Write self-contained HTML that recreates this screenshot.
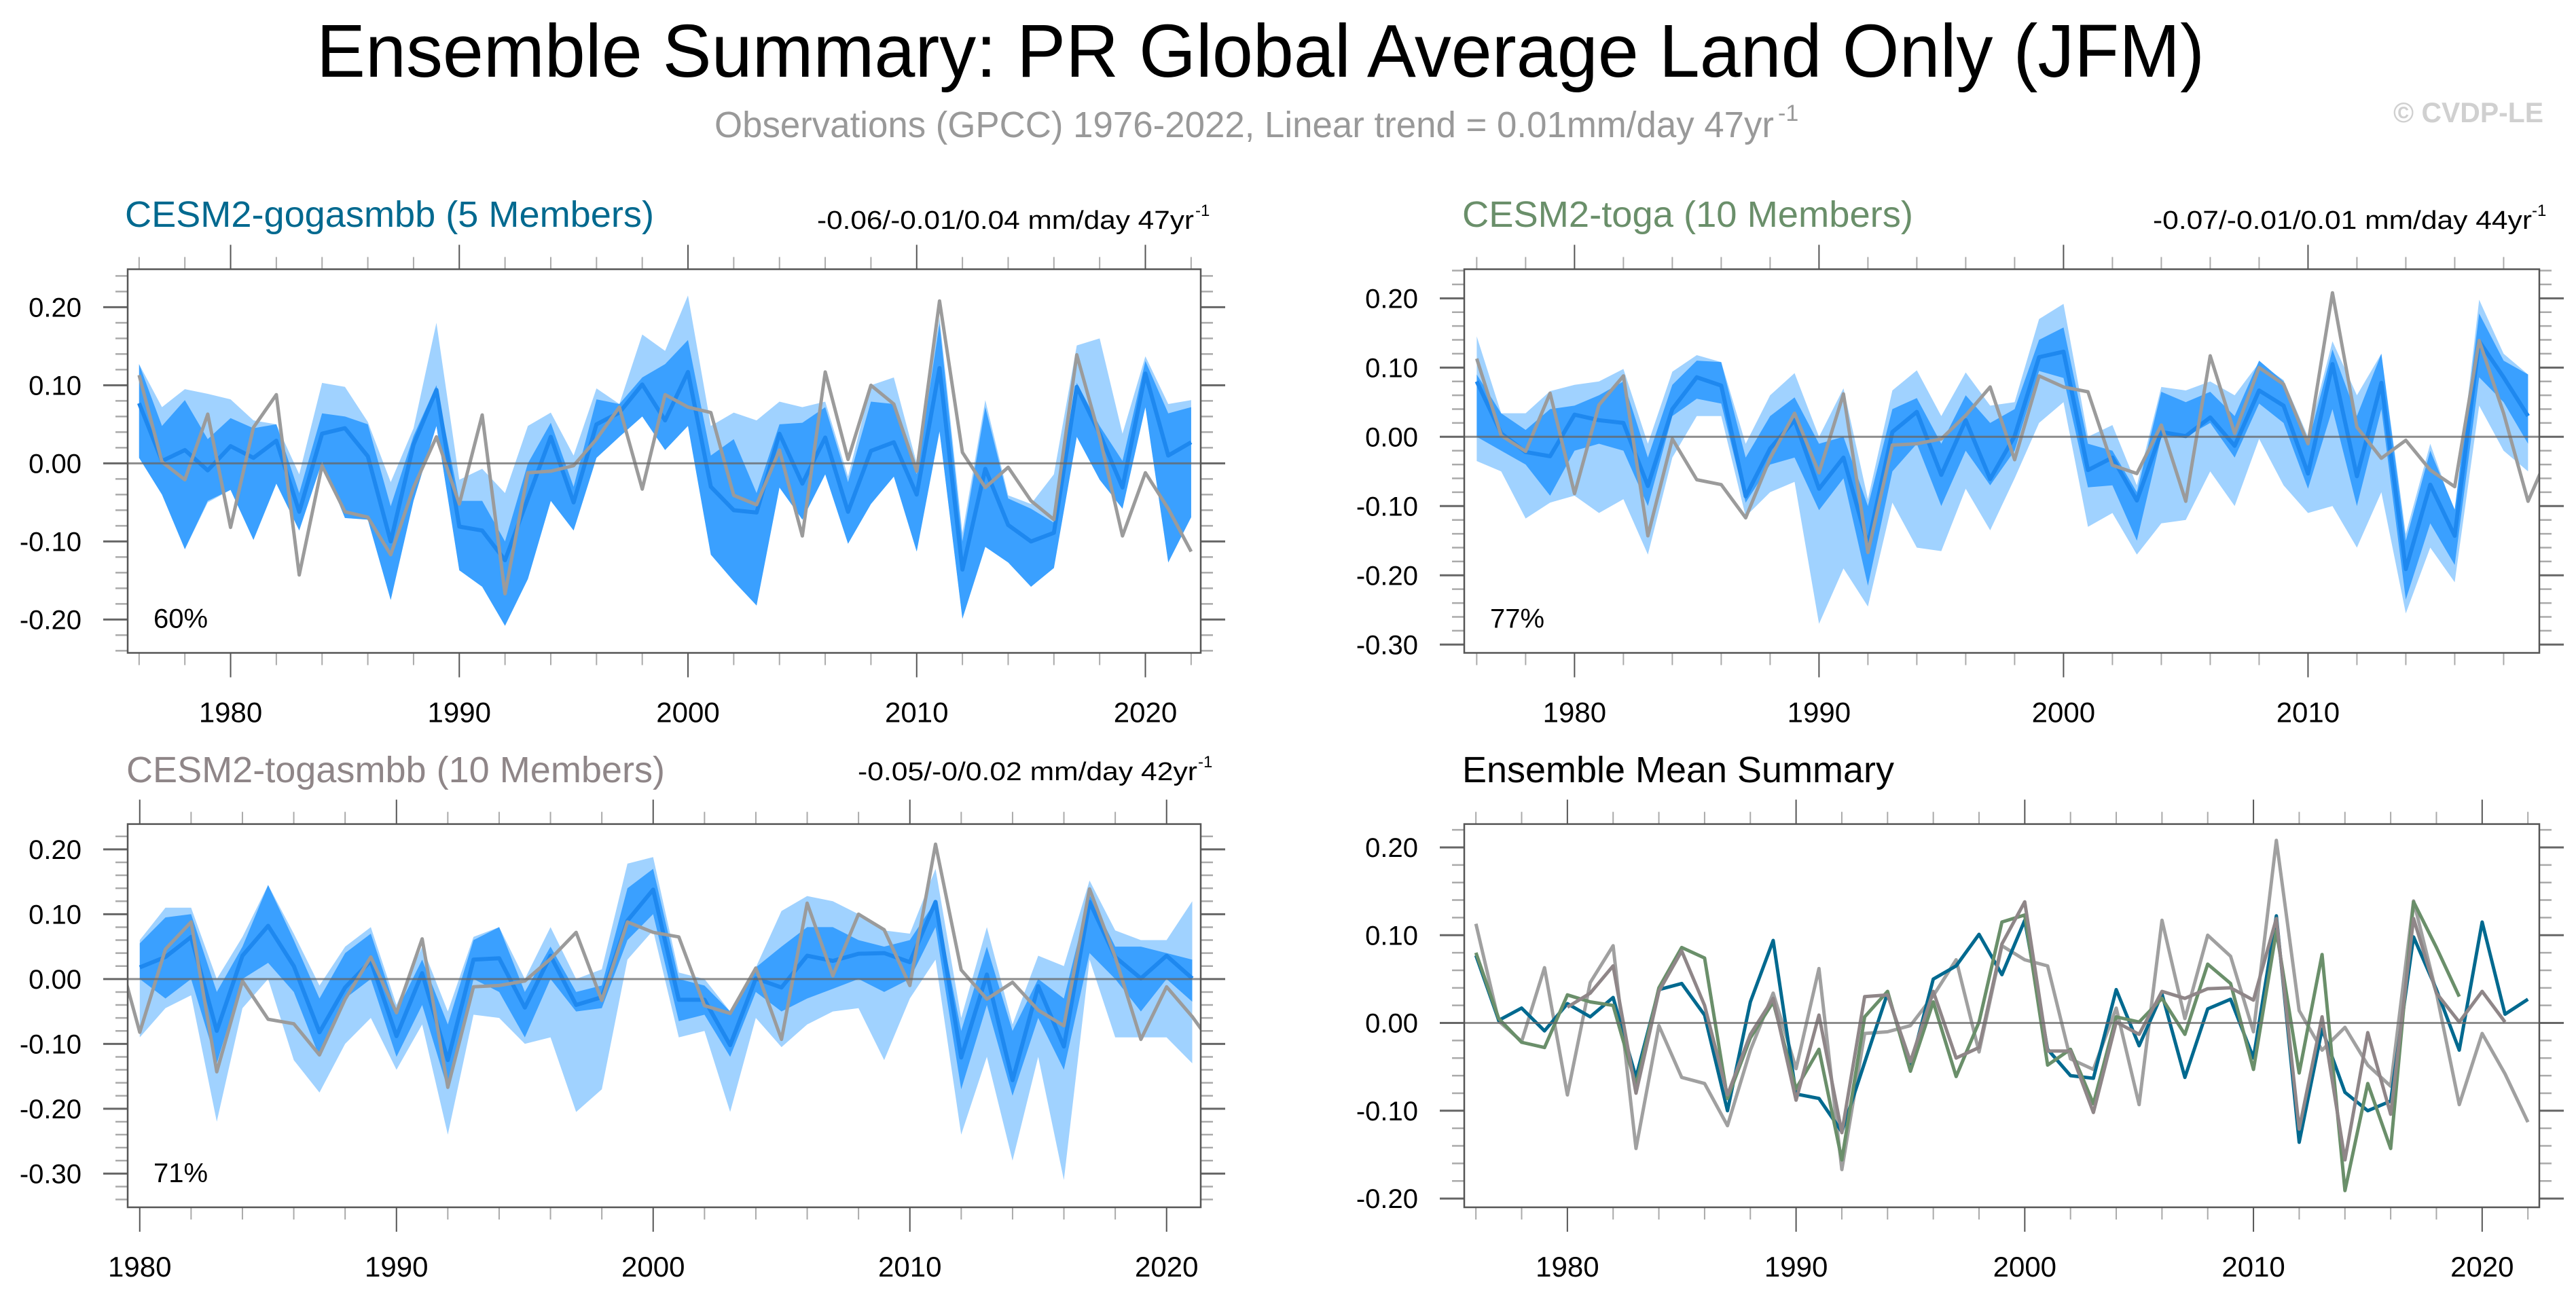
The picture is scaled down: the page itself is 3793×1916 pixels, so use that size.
<!DOCTYPE html>
<html><head><meta charset="utf-8"><title>Ensemble Summary</title>
<style>
html,body{margin:0;padding:0;background:#fff;}
svg{display:block;font-family:"Liberation Sans",Arial,sans-serif;}
</style></head>
<body>
<svg id="chart" width="3793" height="1916" viewBox="0 0 3793 1916" xmlns="http://www.w3.org/2000/svg">
<rect width="3793" height="1916" fill="#fff"/>
<text x="466" y="113" font-size="110" textLength="2780" lengthAdjust="spacingAndGlyphs" fill="#000">Ensemble Summary: PR Global Average Land Only (JFM)</text>
<text x="1052" y="202" font-size="54" fill="#999" textLength="1560" lengthAdjust="spacingAndGlyphs">Observations (GPCC) 1976-2022, Linear trend = 0.01mm/day 47yr</text>
<text x="2618" y="178" font-size="34" fill="#999">-1</text>
<text x="3524" y="180" font-size="42" font-weight="bold" fill="#d0d0d0" textLength="221" lengthAdjust="spacingAndGlyphs">© CVDP-LE</text>

<text x="184" y="334" font-size="54" fill="#00698f" textLength="779" lengthAdjust="spacingAndGlyphs">CESM2-gogasmbb (5 Members)</text>
<text x="1203" y="337" font-size="38" fill="#000" textLength="555" lengthAdjust="spacingAndGlyphs">-0.06/-0.01/0.04 mm/day 47yr</text>
<text x="1760" y="318" font-size="24" fill="#000">-1</text>

<text x="2153" y="334" font-size="54" fill="#6a8f6a" textLength="664" lengthAdjust="spacingAndGlyphs">CESM2-toga (10 Members)</text>
<text x="3170" y="337" font-size="38" fill="#000" textLength="558" lengthAdjust="spacingAndGlyphs">-0.07/-0.01/0.01 mm/day 44yr</text>
<text x="3728" y="318" font-size="24" fill="#000">-1</text>

<text x="186" y="1152" font-size="54" fill="#8f8688" textLength="793" lengthAdjust="spacingAndGlyphs">CESM2-togasmbb (10 Members)</text>
<text x="1263" y="1149" font-size="38" fill="#000" textLength="500" lengthAdjust="spacingAndGlyphs">-0.05/-0/0.02 mm/day 42yr</text>
<text x="1764" y="1130" font-size="24" fill="#000">-1</text>

<text x="2153" y="1152" font-size="54" fill="#000" textLength="636" lengthAdjust="spacingAndGlyphs">Ensemble Mean Summary</text>
</svg>
<script>
// ---------- data ----------
const yearsObs = [1976,1977,1978,1979,1980,1981,1982,1983,1984,1985,1986,1987,1988,1989,1990,1991,1992,1993,1994,1995,1996,1997,1998,1999,2000,2001,2002,2003,2004,2005,2006,2007,2008,2009,2010,2011,2012,2013,2014,2015,2016,2017,2018,2019,2020,2021,2022];
const obs = [0.113,0.002,-0.021,0.063,-0.082,0.046,0.088,-0.143,-0.003,-0.062,-0.069,-0.117,-0.031,0.034,-0.052,0.062,-0.167,-0.012,-0.010,-0.003,0.031,0.072,-0.033,0.088,0.072,0.065,-0.041,-0.053,0.017,-0.093,0.117,0.005,0.100,0.076,-0.010,0.208,0.014,-0.031,-0.005,-0.048,-0.072,0.139,0.034,-0.093,-0.012,-0.058,-0.113];

const years1 = [1976,1977,1978,1979,1980,1981,1982,1983,1984,1985,1986,1987,1988,1989,1990,1991,1992,1993,1994,1995,1996,1997,1998,1999,2000,2001,2002,2003,2004,2005,2006,2007,2008,2009,2010,2011,2012,2013,2014,2015,2016,2017,2018,2019,2020,2021,2022];
const mean1 = [0.077,0.003,0.017,-0.009,0.022,0.007,0.029,-0.062,0.038,0.045,0.009,-0.100,0.024,0.094,-0.081,-0.086,-0.124,-0.045,0.034,-0.050,0.050,0.065,0.101,0.055,0.117,-0.030,-0.060,-0.063,0.038,-0.026,0.033,-0.062,0.016,0.027,-0.040,0.122,-0.136,-0.007,-0.079,-0.100,-0.089,0.098,0.038,-0.031,0.115,0.010,0.027];
const lightUp1 = [0.127,0.072,0.095,0.089,0.082,0.055,0.050,-0.014,0.103,0.098,0.053,-0.024,0.045,0.180,-0.021,-0.007,-0.038,0.048,0.065,0.010,0.096,0.076,0.165,0.144,0.215,0.048,0.065,0.055,0.079,0.072,0.079,-0.017,0.100,0.110,0.000,0.187,-0.089,0.081,-0.041,-0.052,-0.014,0.151,0.160,0.038,0.137,0.076,0.081];
const darkUp1 = [0.127,0.048,0.081,0.031,0.058,0.045,0.050,-0.038,0.064,0.060,0.050,-0.055,0.035,0.100,-0.048,-0.048,-0.100,0.000,0.052,-0.030,0.082,0.076,0.110,0.127,0.158,0.010,0.031,-0.038,0.050,0.052,0.072,-0.024,0.079,0.076,-0.014,0.179,-0.100,0.072,-0.045,-0.058,-0.076,0.103,0.048,0.003,0.131,0.064,0.072];
const darkLo1 = [0.007,-0.040,-0.110,-0.048,-0.034,-0.098,-0.026,-0.086,0.002,-0.070,-0.072,-0.175,-0.048,0.048,-0.137,-0.158,-0.208,-0.148,-0.048,-0.086,0.007,0.034,0.060,0.017,0.048,-0.117,-0.151,-0.182,-0.031,-0.072,-0.014,-0.103,-0.052,-0.017,-0.113,0.041,-0.199,-0.107,-0.127,-0.158,-0.134,0.034,-0.021,-0.058,0.072,-0.127,-0.069];
const lightLo1 = [0.007,-0.040,-0.110,-0.050,-0.034,-0.098,-0.026,-0.086,0.002,-0.070,-0.072,-0.175,-0.048,0.048,-0.137,-0.158,-0.208,-0.148,-0.048,-0.086,0.007,0.034,0.060,0.017,0.048,-0.117,-0.151,-0.182,-0.031,-0.072,-0.014,-0.103,-0.052,-0.017,-0.113,0.041,-0.199,-0.107,-0.127,-0.158,-0.134,0.034,-0.021,-0.058,0.072,-0.127,-0.069];

const years2 = [1976,1977,1978,1979,1980,1981,1982,1983,1984,1985,1986,1987,1988,1989,1990,1991,1992,1993,1994,1995,1996,1997,1998,1999,2000,2001,2002,2003,2004,2005,2006,2007,2008,2009,2010,2011,2012,2013,2014,2015,2016,2017,2018,2019];
const mean2 = [0.080,0.005,-0.022,-0.028,0.032,0.024,0.020,-0.071,0.040,0.086,0.074,-0.086,-0.017,0.024,-0.075,-0.030,-0.156,0.007,0.036,-0.055,0.024,-0.061,0.001,0.115,0.123,-0.048,-0.030,-0.092,0.007,0.001,0.028,-0.013,0.067,0.045,-0.053,0.105,-0.057,0.078,-0.191,-0.069,-0.143,0.138,0.086,0.030];
const lightUp2 = [0.145,0.034,0.034,0.066,0.075,0.080,0.098,-0.010,0.094,0.118,0.108,-0.010,0.060,0.092,0.000,0.070,-0.090,0.067,0.096,0.030,0.093,0.045,0.050,0.170,0.192,0.000,0.017,-0.070,0.072,0.067,0.080,0.060,0.107,0.082,0.000,0.138,0.060,0.120,-0.140,-0.010,-0.110,0.198,0.120,0.090];
const darkUp2 = [0.090,0.034,0.010,0.040,0.045,0.060,0.080,-0.030,0.075,0.110,0.108,-0.030,0.030,0.057,-0.010,0.000,-0.100,0.040,0.056,-0.010,0.060,0.020,0.040,0.140,0.158,-0.010,-0.020,-0.080,0.065,0.050,0.065,0.030,0.110,0.080,-0.010,0.126,0.030,0.120,-0.150,-0.020,-0.105,0.178,0.110,0.090];
const darkLo2 = [0.000,-0.020,-0.040,-0.085,-0.020,-0.010,-0.020,-0.100,0.030,0.055,0.048,-0.095,-0.040,-0.030,-0.106,-0.060,-0.215,-0.050,-0.010,-0.100,-0.020,-0.070,-0.020,0.095,0.085,-0.073,-0.070,-0.150,0.000,0.000,0.020,-0.030,0.048,0.020,-0.075,0.040,-0.100,0.040,-0.235,-0.125,-0.185,0.086,0.050,-0.010];
const lightLo2 = [-0.035,-0.050,-0.118,-0.095,-0.085,-0.110,-0.090,-0.170,-0.030,0.030,0.030,-0.115,-0.080,-0.065,-0.270,-0.190,-0.245,-0.095,-0.160,-0.165,-0.075,-0.135,-0.060,0.020,0.050,-0.130,-0.110,-0.170,-0.125,-0.120,-0.050,-0.100,-0.003,-0.070,-0.110,-0.100,-0.160,-0.080,-0.255,-0.160,-0.210,0.045,-0.020,-0.050];

const years3 = [1980,1981,1982,1983,1984,1985,1986,1987,1988,1989,1990,1991,1992,1993,1994,1995,1996,1997,1998,1999,2000,2001,2002,2003,2004,2005,2006,2007,2008,2009,2010,2011,2012,2013,2014,2015,2016,2017,2018,2019,2020,2021];
const mean3 = [0.018,0.034,0.065,-0.080,0.036,0.082,0.020,-0.082,-0.013,0.028,-0.088,0.009,-0.125,0.030,0.032,-0.044,0.036,-0.040,-0.028,0.090,0.138,-0.032,-0.032,-0.102,0.001,-0.013,0.036,0.028,0.039,0.040,0.026,0.119,-0.121,0.007,-0.156,-0.011,-0.104,0.119,0.034,0.001,0.036,0.001];
const lightUp3 = [0.060,0.110,0.110,0.000,0.065,0.145,0.070,-0.010,0.050,0.080,-0.040,0.050,-0.050,0.065,0.080,0.000,0.080,0.000,0.015,0.178,0.188,0.010,0.000,-0.050,0.018,0.105,0.128,0.120,0.100,0.075,0.070,0.170,-0.060,0.080,-0.070,0.036,0.020,0.152,0.075,0.060,0.060,0.120];
const darkUp3 = [0.055,0.095,0.100,-0.020,0.050,0.145,0.060,-0.030,0.040,0.070,-0.050,0.030,-0.070,0.060,0.080,-0.020,0.050,-0.020,-0.010,0.140,0.170,0.000,-0.010,-0.050,0.018,0.050,0.080,0.080,0.060,0.050,0.060,0.120,-0.080,0.050,-0.080,0.000,-0.030,0.130,0.050,0.050,0.040,0.030];
const darkLo3 = [0.000,-0.030,0.000,-0.130,0.000,0.025,-0.020,-0.120,-0.030,0.000,-0.120,-0.040,-0.170,0.000,-0.020,-0.090,0.000,-0.050,-0.045,0.060,0.100,-0.065,-0.055,-0.120,-0.020,-0.050,-0.030,-0.015,0.000,-0.020,0.000,0.080,-0.170,-0.040,-0.180,-0.060,-0.140,0.040,0.000,-0.050,0.000,-0.035];
const lightLo3 = [-0.090,-0.045,-0.025,-0.220,-0.045,0.000,-0.125,-0.175,-0.100,-0.060,-0.140,-0.070,-0.240,-0.055,-0.060,-0.100,-0.090,-0.205,-0.170,0.030,0.075,-0.090,-0.080,-0.205,-0.060,-0.105,-0.070,-0.050,-0.045,-0.125,-0.030,0.030,-0.240,-0.120,-0.280,-0.120,-0.310,0.030,-0.090,-0.090,-0.090,-0.130];

const pctLabels = ["60%","77%","71%"];

// ---------- drawing ----------
const NS = "http://www.w3.org/2000/svg";
const svg = document.getElementById('chart');
function mk(tag, parent){ const e = document.createElementNS(NS, tag); parent.appendChild(e); return e; }

const panels = [
  {id:1, fx:188, fy:396.5, fw:1580, fh:565, x0:1975.5, x1:2022.42, y0:-0.2427, y1:0.2486, xl:[1980,1990,2000,2010,2020]},
  {id:2, fx:2156, fy:396.5, fw:1583, fh:565, x0:1975.49, x1:2019.46, y0:-0.312, y1:0.242, xl:[1980,1990,2000,2010]},
  {id:3, fx:188, fy:1213.6, fw:1580, fh:564.4, x0:1979.53, x1:2021.33, y0:-0.352, y1:0.239, xl:[1980,1990,2000,2010,2020]},
  {id:4, fx:2156, fy:1213.6, fw:1583, fh:564.4, x0:1975.49, x1:2022.5, y0:-0.21, y1:0.2266, xl:[1980,1990,2000,2010,2020]}
];

function sx(p, yr){ return p.fx + (yr - p.x0) / (p.x1 - p.x0) * p.fw; }
function sy(p, v){ return p.fy + (p.y1 - v) / (p.y1 - p.y0) * p.fh; }

function linePts(p, xs, ys){ return xs.map((x,i)=> sx(p,x).toFixed(1)+','+sy(p,ys[i]).toFixed(1)).join(' '); }
function bandPts(p, xs, up, lo){
  const a = xs.map((x,i)=> sx(p,x).toFixed(1)+','+sy(p,up[i]).toFixed(1));
  const b = xs.map((x,i)=> sx(p,x).toFixed(1)+','+sy(p,lo[i]).toFixed(1)).reverse();
  return a.concat(b).join(' ');
}

const defs = mk('defs', svg);
panels.forEach(p=>{
  const cp = mk('clipPath', defs); cp.setAttribute('id','clip'+p.id);
  const r = mk('rect', cp);
  r.setAttribute('x',p.fx); r.setAttribute('y',p.fy); r.setAttribute('width',p.fw); r.setAttribute('height',p.fh);
});

function drawAxes(p){
  const g = mk('g', svg);
  
  
  const kmin = Math.ceil(p.y0/0.02 - 1e-6), kmax = Math.floor(p.y1/0.02 + 1e-6);
  for(let k=kmin;k<=kmax;k++){
    const v = k*0.02, y = sy(p,v), major = (k%5===0), len = major?36:18;
    [[p.fx, p.fx-len],[p.fx+p.fw, p.fx+p.fw+len]].forEach(([a,b])=>{
      const t = mk('line', g);
      t.setAttribute('x1',a); t.setAttribute('x2',b); t.setAttribute('y1',y); t.setAttribute('y2',y);
      t.setAttribute('stroke', major?'#666':'#aaa'); t.setAttribute('stroke-width', major?3:2.5);
    });
    if(major){
      const tx = mk('text', g);
      
      
      tx.setAttribute('x', p.fx-68); tx.setAttribute('y', y+14);
      tx.setAttribute('text-anchor','end'); tx.setAttribute('font-size','40');
      tx.textContent = (Math.abs(v)<1e-9?0:v).toFixed(2);
    }
  }
  for(let yr=Math.ceil(p.x0); yr<=Math.floor(p.x1); yr++){
    if(yr%2!==0) continue;
    const x = sx(p,yr), major = (yr%10===0), len = major?36:18;
    [[p.fy, p.fy-len],[p.fy+p.fh, p.fy+p.fh+len]].forEach(([a,b])=>{
      const t = mk('line', g);
      t.setAttribute('x1',x); t.setAttribute('x2',x); t.setAttribute('y1',a); t.setAttribute('y2',b);
      t.setAttribute('stroke', major?'#555':'#aaa'); t.setAttribute('stroke-width', 2);
    });
  }
  p.xl.forEach(yr=>{
    const tx = mk('text', g);
    
    
    tx.setAttribute('x', sx(p,yr)); tx.setAttribute('y', p.fy+p.fh+102);
    tx.setAttribute('text-anchor','middle'); tx.setAttribute('font-size','42');
    tx.textContent = yr;
  });
}

function drawSeries(p, parts){
  const g = mk('g', svg);
  g.setAttribute('clip-path','url(#clip'+p.id+')');
  
  
  parts(g);
  const z = mk('line', g);
  
  
  z.setAttribute('x1',p.fx); z.setAttribute('x2',p.fx+p.fw); z.setAttribute('y1',sy(p,0)); z.setAttribute('y2',sy(p,0));
  z.setAttribute('stroke','#666'); z.setAttribute('stroke-opacity','0.75'); z.setAttribute('stroke-width','3');
}

function band(g, p, xs, up, lo, color, name){
  const pg = mk('polygon', g);
  
  
  pg.setAttribute('points', bandPts(p, xs, up, lo));
  pg.setAttribute('fill', color);
}
function line(g, p, xs, ys, color, w, name){
  const pl = mk('polyline', g);
  
  
  pl.setAttribute('points', linePts(p, xs, ys));
  pl.setAttribute('fill','none'); pl.setAttribute('stroke',color); pl.setAttribute('stroke-width',w);
  pl.setAttribute('stroke-linejoin','round');
}

const LIGHT='#a0d2ff', DARK='#3aa0ff', MEAN='#1e88ef', OBS='#9b9b9b';
const ensembles = [
  [years1, mean1, lightUp1, darkUp1, darkLo1, lightLo1],
  [years2, mean2, lightUp2, darkUp2, darkLo2, lightLo2],
  [years3, mean3, lightUp3, darkUp3, darkLo3, lightLo3]
];

ensembles.forEach((e,i)=>{
  const p = panels[i];
  drawSeries(p, g=>{
    band(g, p, e[0], e[2], e[5], LIGHT, 'panel'+p.id+'-minmax-band');
    band(g, p, e[0], e[3], e[4], DARK, 'panel'+p.id+'-interquartile-band');
    line(g, p, e[0], e[1], MEAN, 6, 'panel'+p.id+'-ensemble-mean-line');
    line(g, p, yearsObs, obs, OBS, 5, 'panel'+p.id+'-observations-line');
  });
  const t = mk('text', svg);
  
  
  t.setAttribute('x', p.fx+38); t.setAttribute('y', p.fy+p.fh-37); t.setAttribute('font-size','40');
  t.textContent = pctLabels[i];
});

const p4 = panels[3];
drawSeries(p4, g=>{
  line(g, p4, yearsObs, obs, '#a0a0a0', 5, 'summary-observations-line');
  line(g, p4, years1, mean1, '#00698f', 5, 'summary-gogasmbb-line');
  line(g, p4, years2, mean2, '#6a8f6a', 5, 'summary-toga-line');
  line(g, p4, years3, mean3, '#8f8688', 5, 'summary-togasmbb-line');
});

panels.forEach(p=>{
  drawAxes(p);
  const fr = mk('rect', svg);
  
  
  fr.setAttribute('x',p.fx); fr.setAttribute('y',p.fy); fr.setAttribute('width',p.fw); fr.setAttribute('height',p.fh);
  fr.setAttribute('fill','none'); fr.setAttribute('stroke','#555'); fr.setAttribute('stroke-width','2.5');
});
</script>
</body></html>
